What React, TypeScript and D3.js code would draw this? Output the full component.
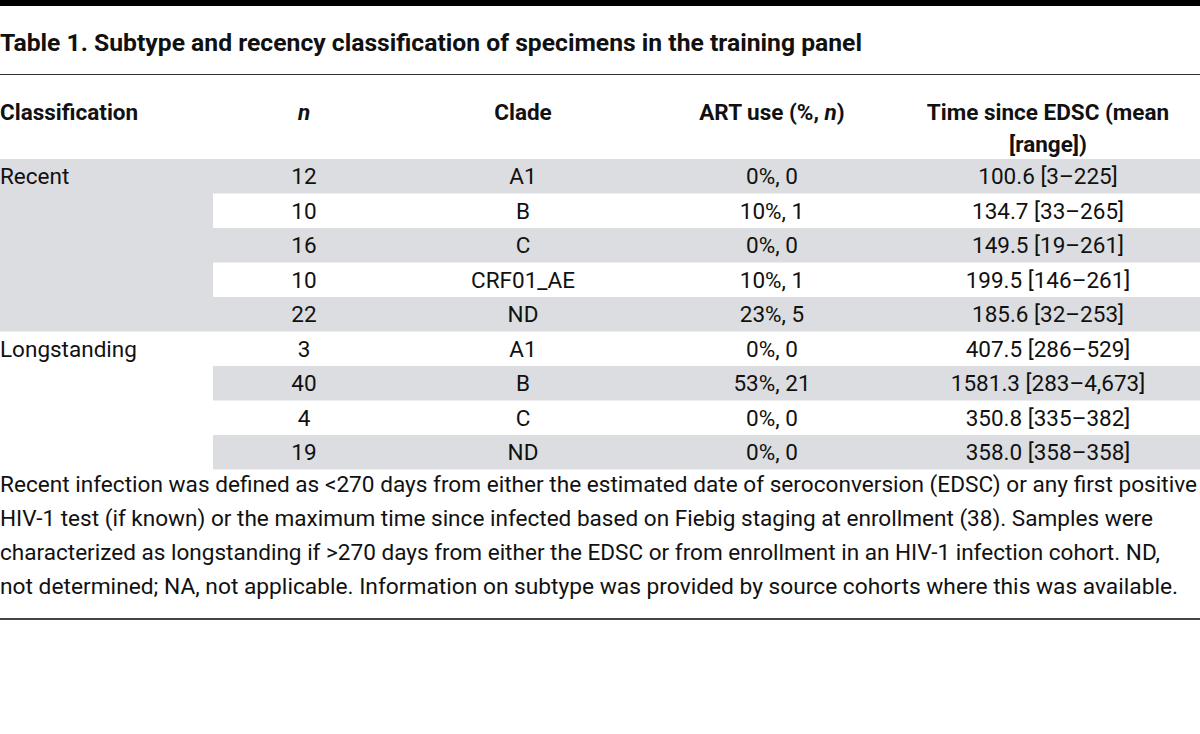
import React from "react";
import * as d3 from "d3";

const title = "Table 1. Subtype and recency classification of specimens in the training panel";
const groups = ["Recent", "Longstanding"];
const groupSizes = [5, 4];
const nValues = ["12", "10", "16", "10", "22", "3", "40", "4", "19"];
const clades = ["A1", "B", "C", "CRF01_AE", "ND", "A1", "B", "C", "ND"];
const artUse = ["0%, 0", "10%, 1", "0%, 0", "10%, 1", "23%, 5", "0%, 0", "53%, 21", "0%, 0", "0%, 0"];
const timeSince = [
  "100.6 [3–225]",
  "134.7 [33–265]",
  "149.5 [19–261]",
  "199.5 [146–261]",
  "185.6 [32–253]",
  "407.5 [286–529]",
  "1581.3 [283–4,673]",
  "350.8 [335–382]",
  "358.0 [358–358]",
];
const footnotes = [
  "Recent infection was defined as <270 days from either the estimated date of seroconversion (EDSC) or any first positive",
  "HIV-1 test (if known) or the maximum time since infected based on Fiebig staging at enrollment (38). Samples were",
  "characterized as longstanding if >270 days from either the EDSC or from enrollment in an HIV-1 infection cohort. ND,",
  "not determined; NA, not applicable. Information on subtype was provided by source cohorts where this was available.",
];
const footWidths = [1197, 1153, 1160, 1178];

const W = 1200;
const H = 734;
const FONT = "Roboto, 'Liberation Sans', sans-serif";
const GRAY = "#dcdde0";

export default function App() {
  const rowIdx = d3.range(nValues.length);
  const y = d3.scaleBand<number>().domain(rowIdx).range([159, 469.5]).padding(0);
  const colX = d3
    .scaleOrdinal<string, number>()
    .domain(["n", "clade", "art", "time"])
    .range([304, 523, 772, 1048]);
  const dataLeft = 213;

  const groupStarts = groupSizes.map((_, i) => d3.sum(groupSizes.slice(0, i)));
  const footY = d3.scaleLinear().domain([0, 1]).range([492, 526]);

  const bodySize = 22.5;
  return (
    <svg
      width={W}
      height={H}
      style={{ position: "absolute", left: 0, top: 0, background: "#fff" }}
      fontFamily={FONT}
    >
      <rect x={0} y={0} width={W} height={6} fill="#000" />
      <text x={0} y={51} fontSize={23.5} fontWeight={700} fill="#111" textLength={862} lengthAdjust="spacingAndGlyphs">
        {title}
      </text>
      <line x1={0} x2={W} y1={74.5} y2={74.5} stroke="#333" strokeWidth={1.2} />

      {/* header */}
      <g fontSize={22.5} fontWeight={700} fill="#111">
        <text x={0} y={120}>Classification</text>
        <text x={colX("n")} y={120} textAnchor="middle" fontStyle="italic">n</text>
        <text x={colX("clade")} y={120} textAnchor="middle">Clade</text>
        <text x={colX("art")} y={120} textAnchor="middle">
          ART use (%, <tspan fontStyle="italic">n</tspan>)
        </text>
        <text x={colX("time")} y={120} textAnchor="middle">Time since EDSC (mean</text>
        <text x={colX("time")} y={152} textAnchor="middle">[range])</text>
      </g>

      {/* row shading */}
      {rowIdx.map((i) =>
        i % 2 === 0 ? (
          <rect key={"r" + i} x={dataLeft} y={y(i)} width={W - dataLeft} height={y.bandwidth()} fill={GRAY} />
        ) : null
      )}
      {groups.map((g, gi) =>
        groupStarts[gi] % 2 === 0 ? (
          <rect
            key={"g" + gi}
            x={0}
            y={y(groupStarts[gi])}
            width={dataLeft}
            height={y.bandwidth() * groupSizes[gi]}
            fill={GRAY}
          />
        ) : null
      )}

      {/* cells */}
      <g fontSize={bodySize} fill="#111">
        {groups.map((g, gi) => (
          <text key={"gt" + gi} x={0} y={(y(groupStarts[gi]) as number) + y.bandwidth() / 2 + 8}>
            {g}
          </text>
        ))}
        {rowIdx.map((i) => {
          const yy = (y(i) as number) + y.bandwidth() / 2 + 8;
          return (
            <g key={"c" + i}>
              <text x={colX("n")} y={yy} textAnchor="middle">{nValues[i]}</text>
              <text x={colX("clade")} y={yy} textAnchor="middle">{clades[i]}</text>
              <text x={colX("art")} y={yy} textAnchor="middle">{artUse[i]}</text>
              <text x={colX("time")} y={yy} textAnchor="middle">{timeSince[i]}</text>
            </g>
          );
        })}
      </g>

      {/* footnote */}
      <g fontSize={bodySize} fill="#111">
        {footnotes.map((f, i) => (
          <text key={"f" + i} x={0} y={footY(i)} textLength={footWidths[i]} lengthAdjust="spacingAndGlyphs">
            {f}
          </text>
        ))}
      </g>
      <rect x={0} y={618} width={W} height={2} fill="#444" />
    </svg>
  );
}
